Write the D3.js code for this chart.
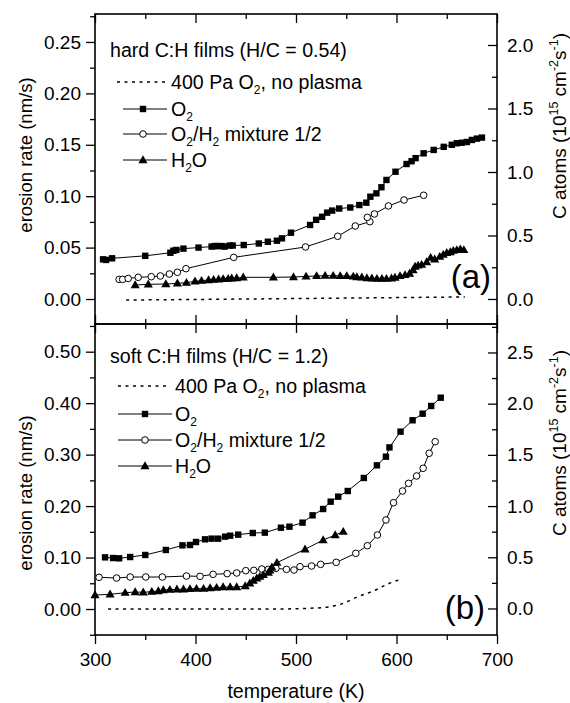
<!DOCTYPE html>
<html><head><meta charset="utf-8">
<script src="https://cdn.jsdelivr.net/npm/d3@7"></script>
<style>
html,body{margin:0;padding:0;background:#fff;}
svg{display:block;font-family:"Liberation Sans",Arial,Helvetica,sans-serif;}
</style></head><body>
<svg id="chart" width="570" height="703"></svg>
<script>
// Erosion rate of C:H films vs. temperature, [T (K), rate (nm/s)]
const hardNoPlasma = [[331,-0.001],[450,0.0],[560,0.001],[668,0.002]];
const hardO2 = [[308,0.0386],[311,0.038],[317,0.0396],[350,0.042],[375,0.045],[378,0.047],[381,0.0477],[388,0.049],[403,0.050],[416,0.051],[419,0.0515],[422,0.0515],[426,0.0515],[429,0.051],[434,0.052],[437,0.052],[448,0.0525],[463,0.054],[472,0.0557],[481,0.0567],[486,0.059],[495,0.0645],[514,0.072],[520,0.077],[526,0.080],[531,0.084],[536,0.086],[543,0.088],[554,0.089],[563,0.0914],[570,0.0937],[574,0.0995],[580,0.1028],[585,0.1087],[590,0.1158],[599,0.1238],[610,0.1313],[615,0.134],[619,0.137],[627,0.1417],[637,0.145],[647,0.148],[655,0.150],[660,0.1515],[665,0.152],[670,0.1527],[675,0.1547],[680,0.156],[685,0.157]];
const hardMix = [[324,0.0191],[327.5,0.0191],[333,0.020],[343,0.0211],[356,0.0217],[365,0.0224],[374,0.0243],[382,0.026],[390.5,0.0295],[438,0.0405],[509.5,0.0506],[541.5,0.061],[559,0.071],[573.5,0.0752],[571,0.0794],[578,0.0827],[592,0.0905],[607.5,0.0963],[627,0.1009]];
const hardH2O = [[340,0.0136],[353,0.0143],[370.5,0.0146],[382,0.0152],[391,0.0159],[399.5,0.0172],[406,0.0178],[413,0.0185],[418,0.0188],[423,0.0191],[427.5,0.0195],[432.5,0.0198],[436,0.0201],[441,0.0204],[447.5,0.0211],[477.5,0.0211],[497.5,0.0214],[510,0.022],[520.5,0.0224],[529,0.0227],[537,0.0227],[544,0.0224],[550.5,0.0224],[557,0.022],[560.5,0.0214],[565.5,0.0211],[570.5,0.0204],[575.5,0.0201],[580.5,0.0198],[585.5,0.0198],[590,0.0198],[595,0.0201],[598.5,0.0208],[603.5,0.0224],[608.5,0.0234],[613,0.0247],[616.5,0.0282],[618.5,0.0315],[621.5,0.0327],[625,0.0334],[630,0.036],[634,0.0402],[638,0.0386],[643,0.0412],[646.5,0.0431],[650,0.045],[653.5,0.0457],[656.5,0.047],[660,0.0477],[663.5,0.0483],[667,0.0477]];

const softNoPlasma = [[313,0.0],[400,0.0],[480,0.0],[520,0.002],[534,0.0045],[547,0.011],[560,0.0227],[577,0.035],[593,0.05],[605,0.058]];
const softO2 = [[310,0.1004],[318,0.0991],[324,0.0985],[335,0.101],[350,0.105],[370.5,0.1147],[387,0.1237],[394.5,0.1244],[400.5,0.1302],[409.5,0.1354],[416,0.1367],[422.5,0.1367],[429.5,0.1406],[434.5,0.1425],[442.5,0.1445],[457,0.1477],[469,0.1484],[485,0.158],[493.5,0.16],[506.5,0.1678],[516.5,0.182],[527,0.1943],[534.5,0.2086],[542,0.2183],[551.5,0.2293],[567.5,0.2546],[580.5,0.2792],[589.5,0.296],[593,0.314],[604,0.3446],[616,0.3667],[626,0.3795],[634.5,0.3945],[644,0.4106]];
const softMix = [[304,0.0616],[321.5,0.0602],[335,0.0622],[350.5,0.0622],[367,0.0622],[391,0.0641],[404.5,0.0635],[417.5,0.0674],[431.5,0.0687],[441,0.07],[450,0.0745],[458,0.0751],[466,0.0777],[472.5,0.0771],[480,0.079],[490.5,0.0771],[498,0.0758],[504,0.0823],[515.5,0.0836],[524.5,0.0868],[540,0.0907],[559.5,0.1082],[571,0.123],[581,0.1438],[589.5,0.173],[597,0.2066],[606,0.2293],[612,0.2442],[620,0.2585],[626.5,0.2734],[632.5,0.3026],[638.5,0.3251]];
const softH2O = [[300,0.0272],[315,0.0285],[330,0.0317],[340,0.033],[348,0.0324],[356.5,0.0337],[363,0.035],[368,0.0369],[374.5,0.0376],[381.5,0.0382],[388,0.0382],[394.5,0.0389],[401,0.0395],[408,0.0395],[414.5,0.0408],[421,0.0414],[427.5,0.0427],[434.5,0.0427],[441,0.0427],[449.5,0.0447],[454,0.0499],[457.5,0.055],[461,0.0596],[464,0.0628],[467.5,0.0661],[472.5,0.0706],[474,0.075],[476,0.081],[481,0.09],[509,0.116],[527,0.1341],[539,0.1438],[547,0.1502]];

// Tick values
const xTicks = [300,400,500,600,700];
const xMinor = [350,450,550,650];
const hardLeftTicks = [0,0.05,0.10,0.15,0.20,0.25];
const hardLeftMinor = [0.025,0.075,0.125,0.175,0.225,0.275];
const hardRightTicks = [0,0.5,1.0,1.5,2.0];
const hardRightMinor = [0.25,0.75,1.25,1.75];
const softLeftTicks = [0,0.10,0.20,0.30,0.40,0.50];
const softLeftMinor = [-0.05,0.05,0.15,0.25,0.35,0.45,0.55];
const softRightTicks = [0,0.5,1.0,1.5,2.0,2.5];
const softRightMinor = [0.25,0.75,1.25,1.75,2.25,2.75];

// Legend labels: [text, "sub"|"sup"|null]
const lblNoPlasma = [["400 Pa O"],["2","sub"],[", no plasma"]];
const lblO2 = [["O"],["2","sub"]];
const lblMix = [["O"],["2","sub"],["/H"],["2","sub"],[" mixture 1/2"]];
const lblH2O = [["H"],["2","sub"],["O"]];
const rightTitle = [["C atoms (10"],["15","sup"],[" cm"],["-2","sup"],["s"],["-1","sup"],[")"]];

const W = 570, H = 703;
const FS = 19;      // tick labels
const FL = 19.6;    // headings, legend, x title
const svg = d3.select("#chart");
svg.append("rect").attr("width", W).attr("height", H).attr("fill", "#fff");

const x = d3.scaleLinear().domain([300,700]).range([95,497]);
const X0 = 95, X1 = 497;

function richText(t, parts, fs, small, shift) {
  let off = 0;
  parts.forEach(([s, kind]) => {
    const want = kind === "sub" ? shift : kind === "sup" ? -shift * 1.6 : 0;
    t.append("tspan")
      .attr("dy", want - off)
      .attr("font-size", kind ? small : fs)
      .text(s);
    off = want;
  });
}

function marker(g, kind, px, py) {
  if (kind === "square") {
    g.append("rect").attr("x", px - 3.2).attr("y", py - 3.2)
      .attr("width", 6.4).attr("height", 6.4).attr("fill", "#000");
  } else if (kind === "circle") {
    g.append("circle").attr("cx", px).attr("cy", py).attr("r", 3.3)
      .attr("fill", "#fff").attr("stroke", "#000").attr("stroke-width", 1);
  } else if (kind === "triangle") {
    g.append("path").attr("d", d3.symbol(d3.symbolTriangle, 36)())
      .attr("transform", `translate(${px},${py + 0.5})`).attr("fill", "#000");
  }
}

function drawPanel(cfg) {
  const g = svg.append("g");
  const y = d3.scaleLinear().domain(cfg.yDomain).range([cfg.bottom, cfg.top]);
  const yr = d3.scaleLinear().domain(cfg.rDomain).range([cfg.bottom, cfg.top]);

  // left axis, outward ticks
  g.append("g").attr("transform", `translate(${X0},0)`)
    .call(d3.axisLeft(y).tickValues(cfg.leftTicks).tickFormat(d3.format(".2f"))
      .tickSize(9).tickPadding(5));
  g.append("g").attr("transform", `translate(${X0},0)`)
    .call(d3.axisLeft(y).tickValues(cfg.leftMinor).tickFormat("").tickSize(5));

  // right axis, inward ticks, labels outside
  g.append("g").attr("transform", `translate(${X1},0)`)
    .call(d3.axisRight(yr).tickValues(cfg.rightTicks).tickFormat(d3.format(".1f"))
      .tickSize(-9).tickPadding(10));
  g.append("g").attr("transform", `translate(${X1},0)`)
    .call(d3.axisRight(yr).tickValues(cfg.rightMinor).tickFormat("").tickSize(-5));

  // top edge, inward ticks
  g.append("g").attr("transform", `translate(0,${cfg.top})`)
    .call(d3.axisTop(x).tickValues(xTicks).tickFormat("").tickSize(-9));
  g.append("g").attr("transform", `translate(0,${cfg.top})`)
    .call(d3.axisTop(x).tickValues(xMinor).tickFormat("").tickSize(-5));

  // bottom edge
  if (cfg.labelsX) {
    g.append("g").attr("transform", `translate(0,${cfg.bottom})`)
      .call(d3.axisBottom(x).tickValues(xTicks).tickFormat(d3.format("d")).tickSize(9).tickPadding(9));
    g.append("g").attr("transform", `translate(0,${cfg.bottom})`)
      .call(d3.axisBottom(x).tickValues(xMinor).tickFormat("").tickSize(5));
  } else {
    g.append("g").attr("transform", `translate(0,${cfg.bottom})`)
      .call(d3.axisBottom(x).tickValues(xTicks).tickFormat("").tickSize(-9));
    g.append("g").attr("transform", `translate(0,${cfg.bottom})`)
      .call(d3.axisBottom(x).tickValues(xMinor).tickFormat("").tickSize(-5));
  }

  g.selectAll(".domain").remove();
  g.selectAll(".tick line").attr("stroke", "#000").attr("stroke-width", 1.3);
  g.selectAll(".tick text").attr("font-size", FS).attr("fill", "#000")
    .attr("font-family", "'Liberation Sans',Arial,sans-serif");

  // frame
  g.append("rect").attr("x", X0).attr("y", cfg.top)
    .attr("width", X1 - X0).attr("height", cfg.bottom - cfg.top)
    .attr("fill", "none").attr("stroke", "#000").attr("stroke-width", 1.6);

  const line = d3.line().x(d => x(d[0])).y(d => y(d[1]));
  const smooth = d3.line().x(d => x(d[0])).y(d => y(d[1])).curve(d3.curveMonotoneX);

  // no-plasma reference (dotted)
  g.append("path").datum(cfg.noPlasma).attr("d", smooth)
    .attr("fill", "none").attr("stroke", "#000").attr("stroke-width", 1.5)
    .attr("stroke-dasharray", "3,4.5");

  cfg.series.forEach(s => {
    g.append("path").datum(s.data).attr("d", line)
      .attr("fill", "none").attr("stroke", "#000").attr("stroke-width", 1);
    s.data.forEach(d => marker(g, s.kind, x(d[0]), y(d[1])));
  });

  // heading
  g.append("text").attr("x", 110).attr("y", cfg.headY).attr("font-size", FL)
    .text(cfg.heading);

  // legend
  const L = cfg.legend;
  g.append("line").attr("x1", L.dotX0).attr("x2", L.dotX1)
    .attr("y1", L.rows[0]).attr("y2", L.rows[0])
    .attr("stroke", "#000").attr("stroke-width", 1.5).attr("stroke-dasharray", "3,4.5");
  const lbls = [lblNoPlasma, lblO2, lblMix, lblH2O];
  const kinds = [null, "square", "circle", "triangle"];
  lbls.forEach((lb, i) => {
    const ly = L.rows[i];
    if (i > 0) {
      g.append("line").attr("x1", L.lineX0).attr("x2", L.lineX1)
        .attr("y1", ly).attr("y2", ly).attr("stroke", "#000").attr("stroke-width", 1);
      marker(g, kinds[i], L.markX, ly);
    }
    const t = g.append("text").attr("x", L.textX).attr("y", ly + 7).attr("font-size", FL);
    richText(t, lb, FL, 12, 5);
  });

  // panel tag
  g.append("text").attr("x", cfg.tagX).attr("y", cfg.tagY).attr("font-size", 33)
    .attr("text-anchor", "end").text(cfg.tag);

  // axis titles
  g.append("text").attr("transform", `translate(32,${cfg.leftTitleY}) rotate(-90)`)
    .attr("text-anchor", "middle").attr("font-size", 18.5).text("erosion rate (nm/s)");
  const rt = g.append("text").attr("transform", `translate(566,${cfg.rightTitleY}) rotate(-90)`)
    .attr("text-anchor", "middle").attr("font-size", FS);
  richText(rt, rightTitle, FS, 12.5, 5);
}

drawPanel({
  top: 14, bottom: 324,
  yDomain: [-0.0243, 0.2772], rDomain: [-0.197, 2.244],
  leftTicks: hardLeftTicks, leftMinor: hardLeftMinor,
  rightTicks: hardRightTicks, rightMinor: hardRightMinor,
  labelsX: false,
  noPlasma: hardNoPlasma,
  series: [{data: hardO2, kind: "square"}, {data: hardMix, kind: "circle"}, {data: hardH2O, kind: "triangle"}],
  heading: "hard C:H films (H/C = 0.54)", headY: 57,
  legend: {rows: [82, 109, 134, 160], dotX0: 117, dotX1: 167, lineX0: 123, lineX1: 167, markX: 143, textX: 171},
  tag: "(a)", tagX: 491, tagY: 288,
  leftTitleY: 155, rightTitleY: 126
});

drawPanel({
  top: 324, bottom: 635,
  yDomain: [-0.0505, 0.5538], rDomain: [-0.259, 2.778],
  leftTicks: softLeftTicks, leftMinor: softLeftMinor,
  rightTicks: softRightTicks, rightMinor: softRightMinor,
  labelsX: true,
  noPlasma: softNoPlasma,
  series: [{data: softO2, kind: "square"}, {data: softMix, kind: "circle"}, {data: softH2O, kind: "triangle"}],
  heading: "soft C:H films (H/C = 1.2)", headY: 363,
  legend: {rows: [386, 414, 440, 466], dotX0: 118, dotX1: 168, lineX0: 118, lineX1: 172, markX: 145, textX: 175},
  tag: "(b)", tagX: 485, tagY: 619,
  leftTitleY: 493, rightTitleY: 443
});

// shared x-axis title
svg.append("text").attr("x", x(500)).attr("y", 698).attr("text-anchor", "middle")
  .attr("font-size", FL).text("temperature (K)");
</script>
</body></html>
